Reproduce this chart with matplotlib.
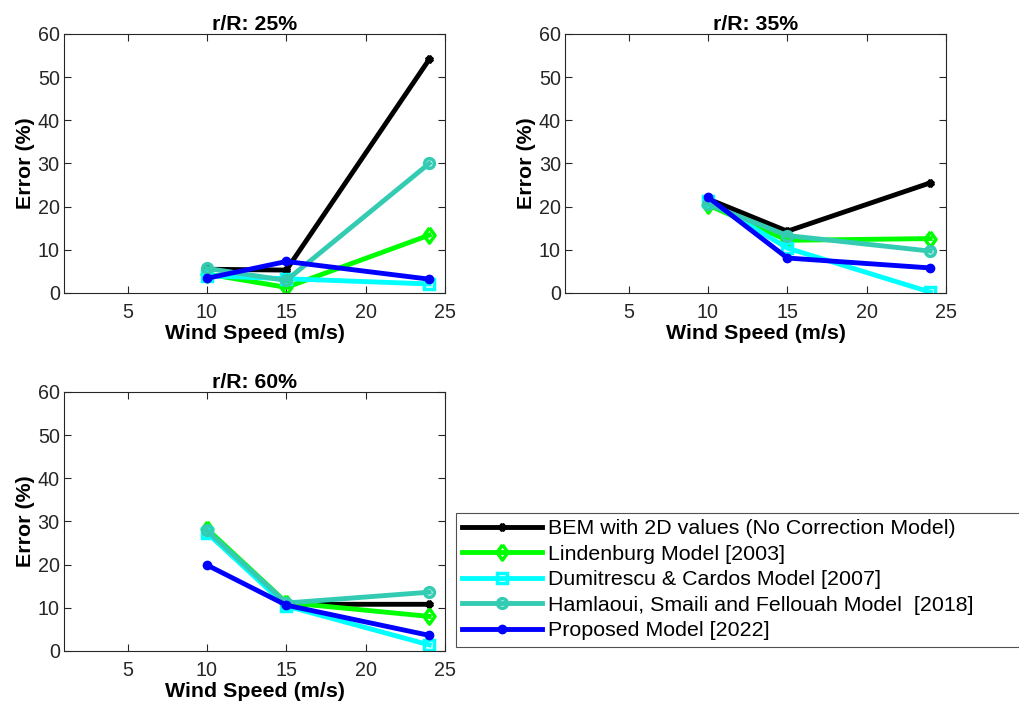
import matplotlib
matplotlib.use("Agg")
import matplotlib.pyplot as plt

plt.rcParams['font.family'] = ['Liberation Sans', 'DejaVu Sans']

wind_speed = [10, 15, 24]
panel_titles = ['r/R: 25%', 'r/R: 35%', 'r/R: 60%']
model_names = ['BEM with 2D values (No Correction Model)',
               'Lindenburg Model [2003]',
               'Dumitrescu & Cardos Model [2007]',
               'Hamlaoui, Smaili and Fellouah Model  [2018]',
               'Proposed Model [2022]']

# error (%) per model, one list per panel
bem = [[5.5, 5.3, 54.1], [21.8, 14.3, 25.5], [27.5, 10.8, 10.8]]
lindenburg = [[4.4, 1.3, 13.4], [20.4, 12.2, 12.6], [28.3, 11.2, 8.0]]
dumitrescu = [[4.0, 3.3, 2.1], [21.4, 10.4, 0.2], [27.4, 10.4, 1.4]]
hamlaoui = [[5.7, 2.9, 30.0], [20.6, 13.3, 9.7], [27.9, 11.1, 13.6]]
proposed = [[3.4, 7.3, 3.2], [22.2, 8.1, 5.8], [19.9, 10.6, 3.6]]

series = [bem, lindenburg, dumitrescu, hamlaoui, proposed]
colors = ['black', '#00FF00', '#00FFFF', '#33CCB3', '#0000FF']
diamond = [(0, 1), (0.72, 0), (0, -1), (-0.72, 0), (0, 1)]
markers = [(8, 2, 0), diamond, 's', 'o', 'o']
msizes = [5.5, 11, 6.5, 7, 4.5]

fig = plt.figure(figsize=(10.19, 7.06), dpi=100)
positions = [[0.0628, 0.585, 0.374, 0.367],
             [0.5545, 0.585, 0.374, 0.367],
             [0.0628, 0.078, 0.374, 0.367]]

handles = []
for p, pos in enumerate(positions):
    ax = fig.add_axes(pos)
    for k in range(len(series)):
        h, = ax.plot(wind_speed, series[k][p], color=colors[k], lw=3.5,
                     marker=markers[k], ms=msizes[k], mfc='none', mew=2.5,
                     mec=colors[k])
        if p == 0:
            handles.append(h)
    ax.set_xlim(1, 25)
    ax.set_ylim(0, 60)
    ax.set_xticks([5, 10, 15, 20, 25])
    ax.set_yticks([0, 10, 20, 30, 40, 50, 60])
    ax.tick_params(direction='in', top=True, right=True, labelsize=14.2,
                   colors='#262626', length=5, width=0.8)
    ax.tick_params(axis='x', pad=7)
    ax.tick_params(axis='y', pad=3)
    for s in ax.spines.values():
        s.set_color('#262626')
        s.set_linewidth(0.8)
    ax.set_title(panel_titles[p], fontsize=15.3, fontweight='bold', pad=3)
    ax.set_xlabel('Wind Speed (m/s)', fontsize=15.4, fontweight='bold', labelpad=2)
    ax.set_ylabel('Error (%)', fontsize=15.4, fontweight='bold', labelpad=2)

leg = fig.legend(handles, model_names, loc='upper left', mode='expand',
                 bbox_to_anchor=(456 / 1019, (706 - 513) / 706, 0.6, 0.0),
                 fontsize=15.4, frameon=True, fancybox=False, edgecolor='#262626',
                 handlelength=3.7, handletextpad=0.28, labelspacing=0.3,
                 borderaxespad=0, borderpad=0.3)
leg.get_frame().set_linewidth(0.8)

fig.savefig('out.png', dpi=100)
